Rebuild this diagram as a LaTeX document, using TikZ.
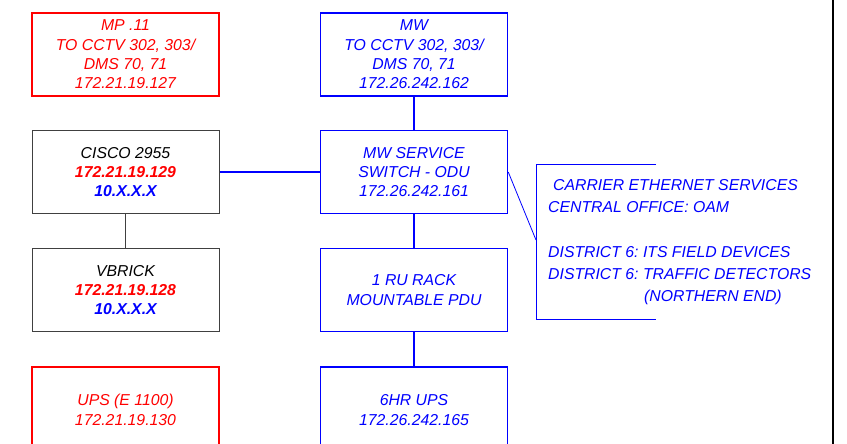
\documentclass[tikz,border=0pt]{standalone}
\usepackage{fontspec}
\setmainfont{Liberation Sans}
\usepackage{tikz}
\usetikzlibrary{calc}
\frenchspacing

\begin{document}
\begin{tikzpicture}[
		x=1pt, y=-1pt,
		line cap=butt, line join=miter,
		font=\fontsize{15.8}{19.3}\selectfont\itshape,
		% --- box styles ---
		redbox/.style={draw=red, line width=1.5pt, text=red, align=center,
			minimum width=\boxw, minimum height=\boxh, inner sep=0pt},
		bluebox/.style={draw=blue, line width=1.5pt, text=blue, align=center,
			minimum width=\boxw, minimum height=\boxh, inner sep=0pt},
		greybox/.style={draw=black!75, line width=1pt, text=black, align=center,
			minimum width=\boxw, minimum height=\boxh, inner sep=0pt},
		bluelink/.style={draw=blue, line width=1.5pt},
		blacklink/.style={draw=black!75, line width=1pt},
		thinlink/.style={draw=blue, line width=0.8pt}
		]
		
		% ---------- Parameters ----------
		\def\boxw{187}    % box width
		\def\boxh{83}     % box height
		\def\xl{125.5}    % left column
		\def\xr{414}      % right column
		
		% ---------- Page frame ----------
		\useasboundingbox (0,0) rectangle (847,444);
		\clip (0,0) rectangle (847,444);
		
		% ---------- Left column ----------
		\node[redbox] (mp) at (\xl,54.5) {MP .11\\TO CCTV 302, 303/\\DMS 70, 71\\172.21.19.127};
		\node[greybox] (cisco) at (\xl,172) {CISCO 2955\\
			\textcolor{red}{\bfseries 172.21.19.129}\\\textcolor{blue}{\bfseries 10.X.X.X}};
		\node[greybox] (vbrick) at (\xl,290) {VBRICK\\
			\textcolor{red}{\bfseries 172.21.19.128}\\\textcolor{blue}{\bfseries 10.X.X.X}};
		\node[redbox, minimum height=86] (upsold) at (\xl,410) {UPS (E 1100)\\172.21.19.130};
		
		% ---------- Right column ----------
		\node[bluebox] (mw) at (\xr,54.5) {MW\\TO CCTV 302, 303/\\DMS 70, 71\\172.26.242.162};
		\node[bluebox] (odu) at (\xr,172) {MW SERVICE\\SWITCH - ODU\\172.26.242.161};
		\node[bluebox] (pdu) at (\xr,290) {1 RU RACK\\MOUNTABLE PDU};
		\node[bluebox, minimum height=86] (upsmw) at (\xr,410) {6HR UPS\\172.26.242.165};
		
		% ---------- Links ----------
		\draw[bluelink] (mw) -- (odu);
		\draw[bluelink] (odu) -- (pdu);
		\draw[bluelink] (pdu) -- (upsmw);
		\draw[bluelink] (cisco) -- (odu);
		\draw[blacklink] (cisco) -- (vbrick);
		
		% ---------- Service note bracket ----------
		\coordinate (brtop) at (656,164);
		\coordinate (brbot) at (656,319);
		\coordinate (tap) at (536,240);
		\draw[thinlink] (brtop) -- (536,164) -- (536,319) -- (brbot);
		\draw[thinlink] (odu.east) -- (tap);
		\node[text=blue, align=left, inner sep=0pt, anchor=west,
		font=\fontsize{15.8}{22.3}\selectfont\itshape] (note) at (548,242)
		{\hspace*{5pt}CARRIER ETHERNET SERVICES\\CENTRAL OFFICE: OAM\\[22.3pt]
			DISTRICT 6: ITS FIELD DEVICES\\DISTRICT 6: TRAFFIC DETECTORS\\
			\hspace*{96pt}(NORTHERN END)};
		
		% ---------- Sheet border ----------
		\draw[line width=1.3pt] (833,0) -- (833,444);
		
	\end{tikzpicture}
\end{document}
